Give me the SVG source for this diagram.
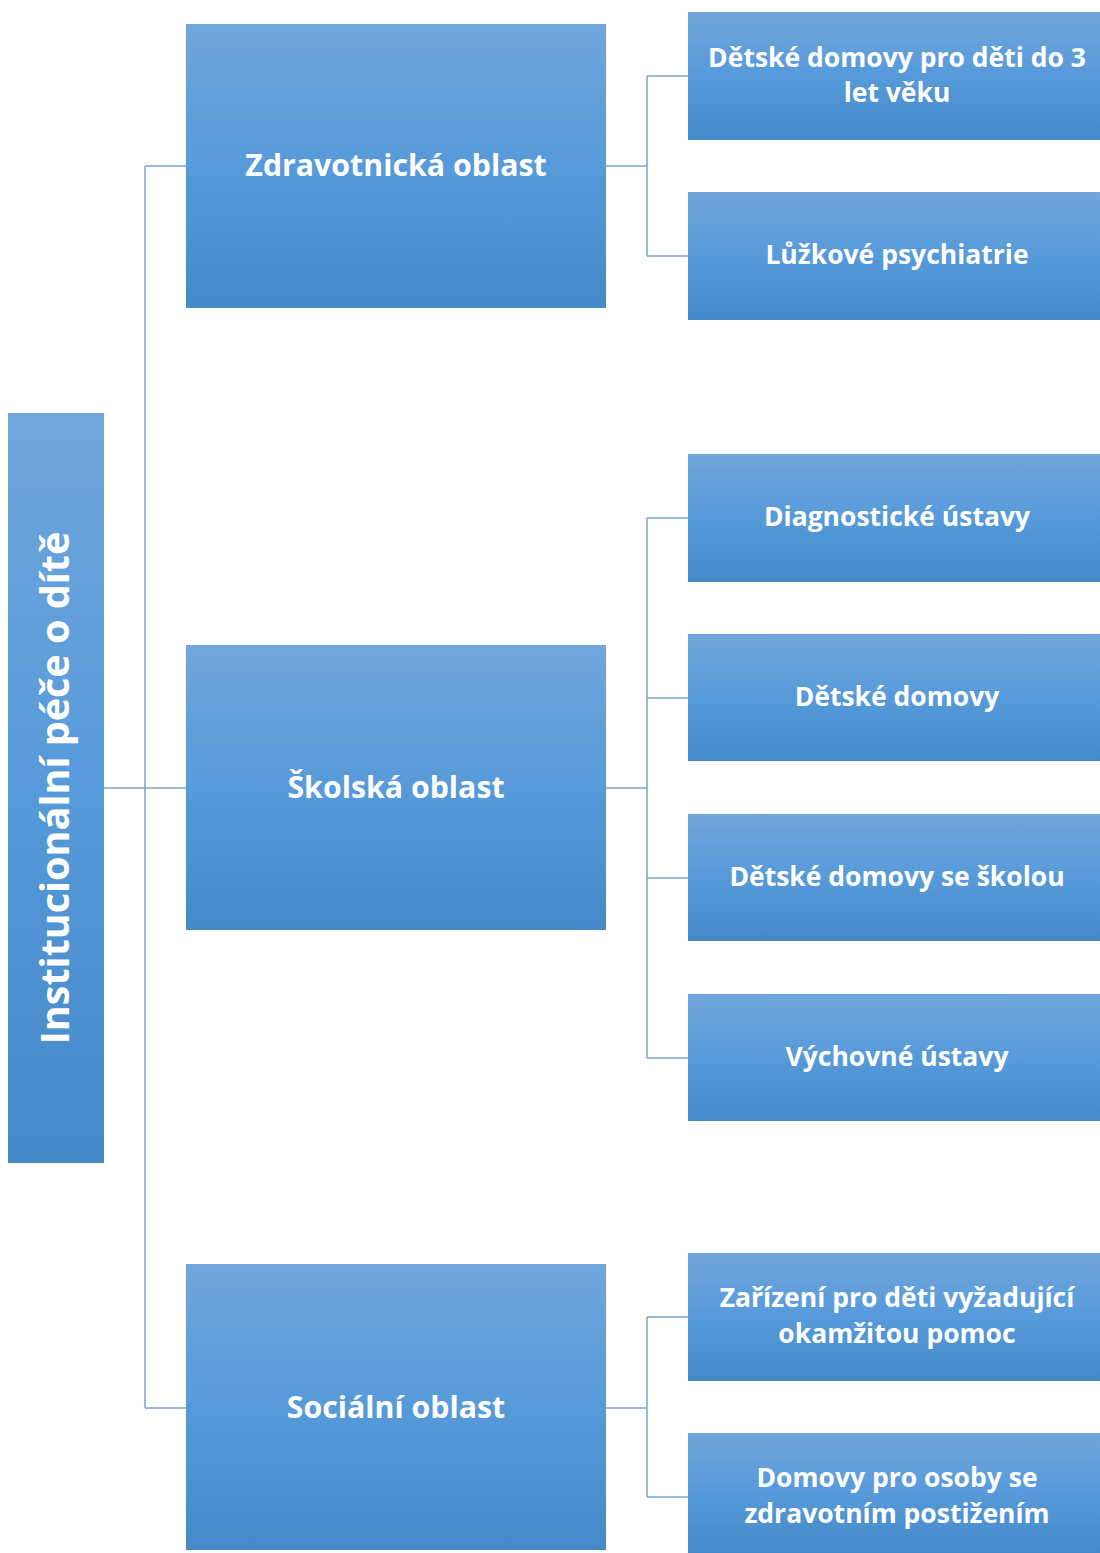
<svg xmlns="http://www.w3.org/2000/svg" width="1100" height="1553" viewBox="0 0 1100 1553">
<defs>
<linearGradient id="g" x1="0" y1="0" x2="0" y2="1">
<stop offset="0" stop-color="#70a6db"/>
<stop offset="0.5" stop-color="#579ada"/>
<stop offset="1" stop-color="#4589c8"/>
</linearGradient>
</defs>
<style>
.box{fill:url(#g);}
.t{fill:#ffffff;font-family:"Open Sans","DejaVu Sans",sans-serif;font-weight:700;text-anchor:middle;dominant-baseline:central;}
.t2{font-size:30.3px;}
.t3{font-size:26.5px;}
.t1{font-size:39.5px;}
.c{stroke:#7ba3cc;stroke-width:1.5;fill:none;}
</style>
<rect width="1100" height="1553" fill="#ffffff"/>
<g id="connectors">
<path class="c" d="M104 788H145M145 166V1408M145 166H186M145 788H186M145 1408H186"/>
<path class="c" d="M606 166H647M647 76V256M647 76H688M647 256H688"/>
<path class="c" d="M606 788H647M647 518V1058M647 518H688M647 698H688M647 878H688M647 1058H688"/>
<path class="c" d="M606 1408H647M647 1317V1497M647 1317H688M647 1497H688"/>
</g>
<g id="root">
<rect class="box" x="8" y="413" width="96" height="750"/>
<text class="t t1" transform="translate(54 788) rotate(-90)">Institucionální péče o dítě</text>
</g>
<g id="zdrav">
<rect class="box" x="186" y="24" width="420" height="284"/>
<text class="t t2" x="396" y="164">Zdravotnická oblast</text>
</g>
<g id="skol">
<rect class="box" x="186" y="645" width="420" height="285"/>
<text class="t t2" x="396" y="786">Školská oblast</text>
</g>
<g id="soc">
<rect class="box" x="186" y="1264" width="420" height="286"/>
<text class="t t2" x="396" y="1406">Sociální oblast</text>
</g>
<g id="n1">
<rect class="box" x="688" y="12" width="412" height="128"/>
<text class="t t3" x="897" y="57">Dětské domovy pro děti do 3</text>
<text class="t t3" x="897" y="92">let věku</text>
</g>
<g id="n2">
<rect class="box" x="688" y="192" width="412" height="128"/>
<text class="t t3" x="897" y="254">Lůžkové psychiatrie</text>
</g>
<g id="n3">
<rect class="box" x="688" y="454" width="412" height="128"/>
<text class="t t3" x="897" y="516">Diagnostické ústavy</text>
</g>
<g id="n4">
<rect class="box" x="688" y="634" width="412" height="127"/>
<text class="t t3" x="897" y="696">Dětské domovy</text>
</g>
<g id="n5">
<rect class="box" x="688" y="814" width="412" height="127"/>
<text class="t t3" x="897" y="876">Dětské domovy se školou</text>
</g>
<g id="n6">
<rect class="box" x="688" y="994" width="412" height="127"/>
<text class="t t3" x="897" y="1056">Výchovné ústavy</text>
</g>
<g id="n7">
<rect class="box" x="688" y="1253" width="412" height="128"/>
<text class="t t3" x="897" y="1297">Zařízení pro děti vyžadující</text>
<text class="t t3" x="897" y="1333">okamžitou pomoc</text>
</g>
<g id="n8">
<rect class="box" x="688" y="1433" width="412" height="120"/>
<text class="t t3" x="897" y="1477">Domovy pro osoby se</text>
<text class="t t3" x="897" y="1513">zdravotním postižením</text>
</g>
</svg>
